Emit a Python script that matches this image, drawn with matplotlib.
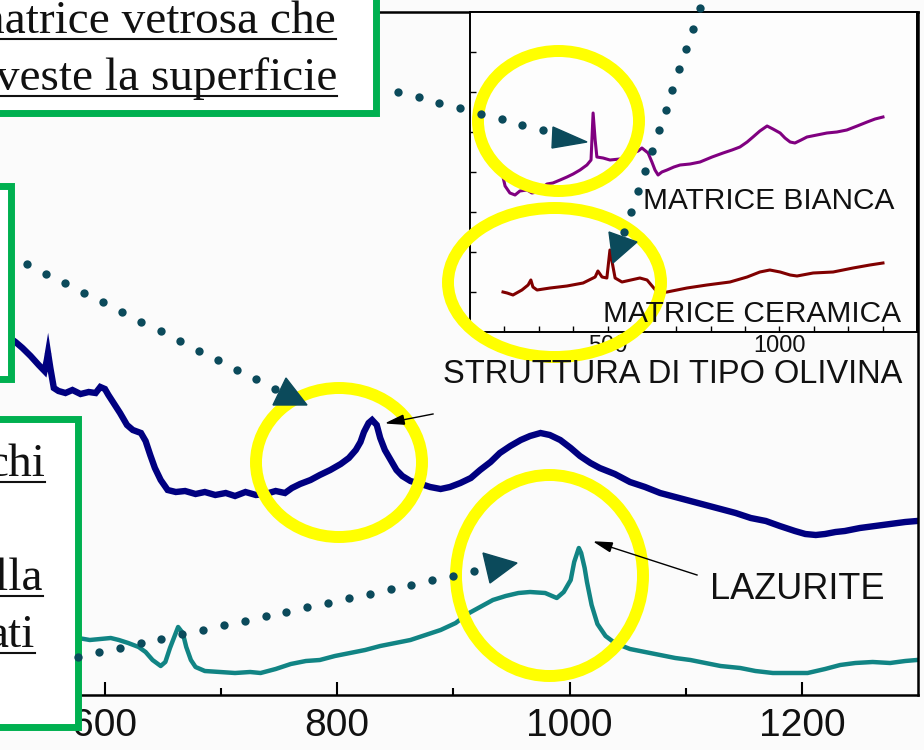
import numpy as np
import matplotlib
matplotlib.use("Agg")
import matplotlib.pyplot as plt
from matplotlib.patches import Ellipse, Rectangle, Polygon

plt.rcParams['font.family'] = ['Liberation Sans', 'DejaVu Sans']

W, H = 924, 750

# spettro blu (olivina) - numero d'onda (cm-1) e intensita' (u.a.)
blu_x = [510, 517, 523, 529, 536, 543, 548, 550, 551, 553,
         556, 560, 566, 572, 579, 586, 592, 596, 600, 603,
         608, 613, 619, 624, 631, 635, 639, 643, 648, 654,
         661, 669, 678, 686, 695, 704, 712, 721, 730, 738,
         747, 755, 761, 768, 777, 785, 794, 803, 810, 816,
         820, 823, 827, 830, 834, 837, 841, 846, 851, 856,
         863, 872, 880, 889, 897, 906, 915, 923, 932, 940,
         949, 958, 966, 975, 983, 992, 1001, 1009, 1018, 1026,
         1039, 1052, 1065, 1078, 1091, 1104, 1117, 1130, 1143, 1156,
         1169, 1181, 1194, 1203, 1212, 1220, 1229, 1237, 1250, 1263,
         1276, 1289, 1299]
blu_y = [360, 358, 353, 347, 339, 330, 324, 335, 342, 327,
         307, 304, 302, 305, 301, 303, 302, 308, 306, 300,
         291, 282, 270, 265, 262, 254, 240, 227, 215, 205,
         203, 204, 201, 203, 200, 202, 199, 203, 200, 201,
         204, 202, 207, 211, 215, 220, 225, 231, 237, 245,
         253, 263, 272, 275, 270, 257, 245, 235, 225, 219,
         214, 211, 208, 206, 208, 212, 217, 225, 233, 242,
         249, 255, 259, 262, 260, 255, 247, 239, 232, 227,
         221, 213, 208, 202, 198, 194, 190, 186, 182, 177,
         174, 169, 164, 161, 160, 161, 163, 164, 167, 169,
         171, 173, 174]

# spettro verde acqua (lazurite)
laz_x = [510, 544, 577, 587, 596, 605, 612, 620, 629, 635,
         641, 648, 652, 656, 660, 663, 667, 670, 674, 678,
         686, 699, 712, 725, 734, 747, 760, 773, 785, 798,
         811, 824, 837, 850, 863, 876, 889, 902, 912, 923,
         934, 945, 956, 966, 979, 989, 995, 1001, 1004, 1008,
         1010, 1013, 1015, 1019, 1024, 1031, 1039, 1052, 1065, 1078,
         1091, 1104, 1117, 1130, 1147, 1160, 1175, 1190, 1205, 1220,
         1233, 1246, 1261, 1276, 1289, 1299]
laz_y = [63, 59, 57, 55, 56, 57, 55, 52, 48, 43,
         35, 29, 33, 47, 59, 68, 62, 48, 35, 28,
         24, 23, 22, 23, 22, 26, 31, 34, 35, 39,
         42, 45, 49, 52, 55, 60, 65, 72, 81, 88,
         95, 99, 102, 103, 102, 97, 103, 115, 133, 147,
         142, 127, 113, 90, 71, 59, 52, 46, 43, 40,
         37, 35, 32, 29, 27, 24, 22, 22, 22, 26,
         30, 32, 33, 32, 34, 35]

# riquadro: matrice bianca e matrice ceramica
bianca_x = [196, 202, 216, 231, 245, 266, 280, 295, 309, 324,
            341, 362, 382, 400, 420, 440, 452, 458, 464, 469,
            487, 507, 536, 557, 574, 589, 600, 618, 629, 638,
            647, 658, 673, 693, 711, 740, 769, 804, 836, 862,
            885, 906, 923, 943, 964, 981, 1002, 1016, 1031, 1045,
            1063, 1080, 1109, 1138, 1167, 1196, 1226, 1255, 1278, 1301]
bianca_y = [155, 146, 139, 137, 141, 142, 139, 140, 144, 148,
            149, 152, 155, 158, 162, 167, 172, 219, 192, 175,
            174, 172, 173, 176, 179, 181, 184, 179, 170, 162,
            157, 160, 162, 165, 167, 168, 170, 175, 179, 182,
            185, 190, 195, 201, 206, 203, 199, 194, 190, 189,
            192, 195, 197, 199, 200, 202, 206, 210, 213, 215]

ceram_x = [196, 208, 225, 251, 269, 277, 283, 295, 333, 382,
           429, 464, 472, 484, 498, 507, 516, 522, 542, 594,
           615, 632, 647, 673, 731, 789, 856, 906, 943, 972,
           1002, 1031, 1051, 1098, 1156, 1214, 1263, 1301]
ceram_y = [40, 39, 37, 42, 47, 52, 45, 42, 44, 46,
           49, 55, 61, 55, 54, 82, 65, 54, 50, 54,
           52, 45, 39, 40, 44, 47, 50, 55, 60, 62,
           60, 57, 56, 59, 60, 64, 67, 69]

tick_main = [600, 800, 1000, 1200]
tick_main_min = [700, 900, 1100]
tick_ins = [500, 1000]
tick_ins_min = [200, 300, 400, 600, 700, 800, 900, 1100, 1200, 1300]
tick_ins_y = [40, 80, 120, 160, 200, 240, 280]


def box(x0, y0, x1, y1):
    # rettangolo in pixel (origine in alto a sinistra) -> coordinate figura
    return [x0 / W, 1 - y1 / H, (x1 - x0) / W, (y1 - y0) / H]


fig = plt.figure(figsize=(W / 100, H / 100), dpi=100)
fig.patch.set_facecolor('#fbfbfb')

# grafico principale
ax = fig.add_axes(box(0.4, 12, 918, 695))
ax.set_facecolor('none')
ax.plot(blu_x, blu_y, color='#000080', lw=4.6, solid_joinstyle='miter')
ax.plot(laz_x, laz_y, color='#118484', lw=3.2)
ax.set_xlim(510, 1300)
ax.set_ylim(0, 683)
ax.spines['left'].set_visible(False)
for s in ax.spines.values():
    s.set_linewidth(1.8)
ax.set_xticks(tick_main)
ax.set_xticks(tick_main_min, minor=True)
ax.set_yticks([])
ax.tick_params(axis='x', which='major', direction='in', length=9.5, width=1.5,
               labelsize=28, pad=9, labelcolor='#111111')
ax.tick_params(axis='x', which='minor', direction='in', length=5, width=1.5)

# riquadro interno
ins = fig.add_axes(box(470, 12, 917, 332), zorder=1)
ins.set_facecolor('#fdfdfd')
ins.plot(bianca_x, bianca_y, color='#800080', lw=2.2)
ins.plot(ceram_x, ceram_y, color='#800000', lw=2.2)
ins.set_xlim(100, 1400)
ins.set_ylim(0, 320)
for s in ins.spines.values():
    s.set_linewidth(1.4)
ins.set_xticks(tick_ins)
ins.set_xticks(tick_ins_min, minor=True)
ins.set_yticks(tick_ins_y)
ins.set_yticklabels([])
ins.tick_params(which='both', direction='in', length=4, width=1)
ins.tick_params(axis='x', labelsize=17, pad=2.5, labelcolor='#111111')

# livello di annotazioni in pixel
ov = fig.add_axes([0, 0, 1, 1], zorder=5)
ov.set_xlim(0, W)
ov.set_ylim(H, 0)
ov.axis('off')
ov.patch.set_visible(False)

verde = '#00b050'
for x0, y0, x1, y1 in [(-30, -30, 376, 113), (-30, 186, 11, 379), (-30, 419, 77.5, 727)]:
    ov.add_patch(Rectangle((x0, y0), x1 - x0, y1 - y0, fc='white', ec=verde, lw=5, zorder=2))

serif = ['Liberation Serif', 'DejaVu Serif']
righe = [("matrice vetrosa che", 336, 33), ("riveste la superficie", 337, 90),
         ("chi", 45, 476), ("lla", 43, 590), ("ati", 35, 647)]
for testo, xr, yb in righe:
    ov.text(xr, yb, testo, ha='right', va='baseline', fontsize=34, family=serif,
            color='#111111', zorder=3)
    ov.plot([-5, xr], [yb + 6, yb + 6], color='#111111', lw=1.5, zorder=3)

giallo = '#ffff00'
for cx, cy, w, h in [(558.5, 121, 161, 140), (554.5, 282.5, 213, 149),
                     (339, 462.5, 166, 149), (549.5, 575.5, 187, 201)]:
    ov.add_patch(Ellipse((cx, cy), w, h, fill=False, ec=giallo, lw=8.6, zorder=4))

# frecce a puntini
scuro = '#0b4a5b'
frecce = [((398, 92), (543, 130), 8, [(553, 127), (587, 142), (552, 148)]),
          ((707, -12), (624, 232), 13, [(609, 232), (637, 242), (613, 263)]),
          ((27, 264), (275, 389), 14, [(286, 378), (273, 405), (307, 405)]),
          ((78, 657), (474, 571), 20, [(483, 553), (517, 563), (490, 583)])]
for (xa, ya), (xb, yb), n, tri in frecce:
    ov.plot(np.linspace(xa, xb, n), np.linspace(ya, yb, n), 'o', ms=6,
            color=scuro, mec='none', zorder=6)
    ov.add_patch(Polygon(tri, closed=True, color=scuro, zorder=6))


def freccina(x0, y0, x1, y1, hl=17, hw=4.5):
    d = np.array([x1 - x0, y1 - y0], float)
    u = d / np.hypot(*d)
    nrm = np.array([-u[1], u[0]])
    base = np.array([x1, y1]) - u * hl
    ov.plot([x0, base[0]], [y0, base[1]], color='black', lw=1, zorder=6)
    ov.add_patch(Polygon([(x1, y1), base + nrm * hw, base - nrm * hw],
                         closed=True, color='black', zorder=6))


freccina(433, 414, 387, 423)
freccina(697, 575, 595, 542)

etichette = [("MATRICE BIANCA", 643, 209, 21.5), ("MATRICE CERAMICA", 603, 322, 21.5),
             ("STRUTTURA DI TIPO OLIVINA", 443, 383, 23.5), ("LAZURITE", 710, 599, 26)]
for testo, xl, yb, fs in etichette:
    ov.text(xl, yb, testo, ha='left', va='baseline', fontsize=fs, color='#111111', zorder=6)

fig.savefig("out.png", dpi=100, facecolor=fig.get_facecolor())
